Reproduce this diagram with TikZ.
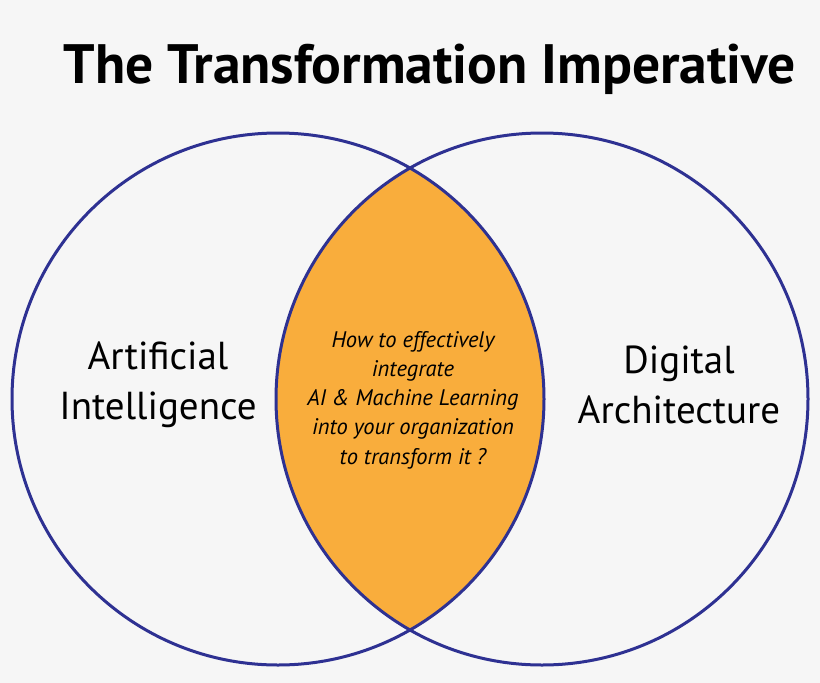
\documentclass[tikz,border=0pt]{standalone}
\usepackage{fontspec}
\setmainfont{PT Sans}
\definecolor{bg}{HTML}{F6F6F6}
\definecolor{ring}{HTML}{2E3192}
\definecolor{lens}{HTML}{F9AD3C}
\begin{document}
\begin{tikzpicture}[x=1pt,y=-1pt,
  ringline/.style={draw=ring,line width=3pt},
  biglabel/.style={font=\fontsize{39}{50}\selectfont,align=center,text=black,inner sep=0pt},
  midlabel/.style={font=\fontsize{22.5}{29.3}\selectfont\itshape,align=center,text=black,inner sep=0pt}]
\fill[bg] (0,0) rectangle (820,683);
\useasboundingbox (0,0) rectangle (820,683);
\begin{scope}
  \clip (278,399) circle (266);
  \fill[lens] (542,399) circle (266);
\end{scope}
\node[ringline,circle,minimum size=532pt,inner sep=0pt] (ai) at (278,399) {};
\node[ringline,circle,minimum size=532pt,inner sep=0pt] (da) at (542,399) {};
\node[font=\fontsize{55.5}{60}\selectfont\bfseries,inner sep=0pt] (title) at (430,69) {The Transformation Imperative};
\node[biglabel] (ail) at (158,385) {Artificial\\Intelligence};
\node[biglabel] (dal) at (679,385) {Digital\\Architecture};
\node[midlabel] (q) at (413,400) {How to effectively\\integrate\\AI \& Machine Learning\\into your organization\\to transform it ?};
\end{tikzpicture}
\end{document}
